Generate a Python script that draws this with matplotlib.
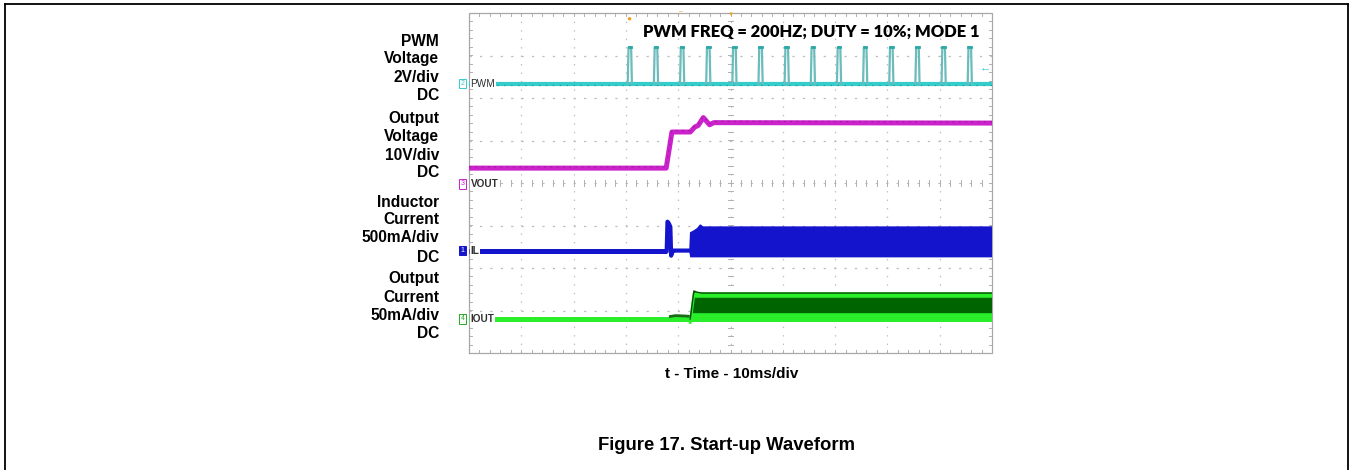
import numpy as np
import matplotlib
matplotlib.use("Agg")
import matplotlib.pyplot as plt
from matplotlib.lines import Line2D

plt.rcParams['lines.scale_dashes'] = False
plt.rcParams['font.family'] = ['Liberation Sans', 'DejaVu Sans']

# ---------------- data (time in ms, 10 ms/div, 0..100 ms) ----------------
channel_labels = ["PWM", "VOUT", "IL", "IOUT"]
left_labels = [["PWM", "Voltage", "2V/div", "DC"],
               ["Output", "Voltage", "10V/div", "DC"],
               ["Inductor", "Current", "500mA/div", "DC"],
               ["Output", "Current", "50mA/div", "DC"]]
title_text = "PWM FREQ = 200HZ; DUTY = 10%; MODE 1"
xlabel_text = "t - Time - 10ms/div"
caption_text = "Figure 17. Start-up Waveform"

# PWM (V)
pwm_pulse_t = [30.5, 35.5, 40.5, 45.5, 50.5, 55.5, 60.5, 65.5, 70.5, 75.5,
               80.5, 85.5, 90.5, 95.5]
pwm_width_ms = 0.5
pwm_low_v = 0.0
pwm_high_v = 1.7

# VOUT (V)
vout_t = [0, 37.7, 38.8, 42.3, 43.2, 43.8, 44.8, 46.0, 46.8, 100]
vout_v = [3.7, 3.7, 12.2, 12.2, 13.4, 13.7, 15.6, 13.9, 14.4, 14.3]

# IL (mA)
il_base_t = [0, 37.8]
il_base_ma = [0, 0]
il_spike_t = [37.8, 37.95, 38.2, 38.5, 38.65, 38.85, 39.0, 42.1]
il_spike_ma = [0, 340, 320, 280, -60, -20, 0, 0]
il_upper_t = [42.1, 42.25, 43.0, 43.6, 44.2, 44.8, 100]
il_upper_ma = [0, 215, 240, 265, 310, 285, 285]
il_lower_t = [42.1, 42.3, 100]
il_lower_ma = [-10, -80, -80]

# IOUT (mA)
iout_base_t = [0, 100]
iout_base_ma = [0, 0]
iout_bump_t = [38.5, 39.5, 41.5, 42.3]
iout_bump_ma = [3.0, 4.0, 3.5, 3.0]
iout_top_t = [42.3, 43.0, 43.6, 44.6, 100]
iout_top_ma = [0, 33, 31.5, 30.5, 30.5]
iout_band_t = [43.2, 100]
iout_band_ma = [28.0, 28.0]
iout_low_band_t = [42.6, 100]
iout_low_band_ma = [2.5, 2.5]

# channel scales / offsets (divisions)
pwm_scale, pwm_off = 2.0, 2.34
vout_scale, vout_off = 10.0, -0.02
il_scale, il_off = 500.0, -1.59
iout_scale, iout_off = 50.0, -3.2

C_PWM = "#35cccc"
C_VOUT = "#cc22cc"
C_IL = "#1414cc"
C_IOUT = "#2aee2a"
C_IOUT_D = "#006400"

W, H = 1350, 470
fig = plt.figure(figsize=(13.5, 4.7), dpi=100)

def fx(px):
    return px / W

def fy(py):
    return 1 - py / H

# outer frame
for (x0, y0, x1, y1) in [(5, 4, 1348, 4), (5, 4, 5, 470), (1348, 4, 1348, 470)]:
    fig.add_artist(Line2D([fx(x0), fx(x1)], [fy(y0), fy(y1)], color='black', lw=1.3))

L, T, R, B = 469, 13, 992, 353
ax = fig.add_axes([fx(L), fy(B), (R - L) / W, (B - T) / H])
ax.set_xlim(0, 100)
ax.set_ylim(-4, 4)
ax.axis('off')

gcol = '#bcbcbc'
tcol = '#b0b0b0'
# dotted grid
for x in range(10, 100, 10):
    if x == 50:
        continue
    ax.plot([x, x], [-4, 4], color=gcol, lw=0.9, ls=(0, (1.0, 5.1)), zorder=1)
for y in range(-3, 4):
    if y == 0:
        continue
    ax.plot([0, 100], [y, y], color=gcol, lw=0.9, ls=(0, (1.6, 5.9)), zorder=1)
# center lines with ticks
ax.plot([50, 50], [-4, 4], color=gcol, lw=0.8, ls=(0, (1.0, 5.1)), zorder=1)
ax.plot([0, 100], [0, 0], color=gcol, lw=0.8, ls=(0, (1.6, 5.9)), zorder=1)
for yy in np.arange(-4, 4.01, 0.2):
    ax.plot([49.5, 50.5], [yy, yy], color=tcol, lw=0.7, zorder=1)
    ax.plot([0, 0.6], [yy, yy], color=tcol, lw=0.7, zorder=1)
    ax.plot([99.4, 100], [yy, yy], color=tcol, lw=0.7, zorder=1)
for xx in np.arange(0, 100.01, 2):
    ax.plot([xx, xx], [-0.06, 0.06], color=tcol, lw=0.7, zorder=1)
    ax.plot([xx, xx], [3.92, 4.0], color=tcol, lw=0.7, zorder=1)
    ax.plot([xx, xx], [-4.0, -3.92], color=tcol, lw=0.7, zorder=1)
# border
ax.plot([0, 100, 100, 0, 0], [-4, -4, 4, 4, -4], color='#a8a8a8', lw=0.9, zorder=1, clip_on=False)

# ---- PWM ----
pb = pwm_low_v / pwm_scale + pwm_off
ph = pwm_high_v / pwm_scale + pwm_off
ax.plot([0, 100], [pb, pb], color=C_PWM, lw=3.0, zorder=3, solid_capstyle='butt')
ax.plot([0, 100], [pb - 0.03, pb - 0.03], color='#1f7f7f', lw=0.8, ls=(0, (1, 4)), zorder=3, alpha=0.7)
for t0 in pwm_pulse_t:
    ax.plot([t0 - 0.15, t0, t0 + pwm_width_ms, t0 + pwm_width_ms + 0.15],
            [pb, ph, ph, pb], color='#6cbcbc', lw=1.6, zorder=4)
    ax.plot([t0, t0 + pwm_width_ms], [ph, ph], color='#2aa8a8', lw=2.0, zorder=4)

# ---- VOUT ----
vd = np.array(vout_v) / vout_scale + vout_off
ax.plot(vout_t, vd, color=C_VOUT, lw=3.6, zorder=3, solid_joinstyle='round')
ax.plot(vout_t, vd + 0.03, color='#8a1a8a', lw=0.8, ls=(0, (1.5, 3)), zorder=3, alpha=0.7)

# ---- IL ----
ax.plot(il_base_t, np.array(il_base_ma) / il_scale + il_off, color=C_IL, lw=3.6, zorder=3,
        solid_capstyle='butt')
ax.plot(il_spike_t, np.array(il_spike_ma) / il_scale + il_off, color=C_IL, lw=3.0, zorder=3)
ux = np.array(il_upper_t); uy = np.array(il_upper_ma) / il_scale + il_off
lx = np.array(il_lower_t); ly = np.array(il_lower_ma) / il_scale + il_off
ax.fill(np.r_[ux, lx[::-1]], np.r_[uy, ly[::-1]], color=C_IL, lw=0, zorder=3)

# ---- IOUT ----
ax.plot(iout_base_t, np.array(iout_base_ma) / iout_scale + iout_off, color=C_IOUT, lw=3.6,
        zorder=3, solid_capstyle='butt')
ax.plot(iout_bump_t, np.array(iout_bump_ma) / iout_scale + iout_off, color='#1a6a1a', lw=2.0, zorder=4)
tx = np.array(iout_top_t); ty = np.array(iout_top_ma) / iout_scale + iout_off
ax.fill(np.r_[tx, tx[-1], tx[0]], np.r_[ty, iout_off, iout_off], color=C_IOUT_D, lw=0, zorder=3)
ax.plot(iout_band_t, np.array(iout_band_ma) / iout_scale + iout_off, color=C_IOUT, lw=4.0, zorder=4,
        solid_capstyle='butt')
ax.plot(tx, ty, color='#0a4a0a', lw=1.0, zorder=5)
ax.plot(tx[:3], ty[:3] - 0.08, color=C_IOUT, lw=2.0, zorder=4)
ax.plot(iout_low_band_t, np.array(iout_low_band_ma) / iout_scale + iout_off, color=C_IOUT, lw=5.5,
        zorder=4, solid_capstyle='butt')

# channel markers
markers = [("2", pb, C_PWM, False), ("3", vout_off, C_VOUT, False),
           ("1", il_off, C_IL, True), ("4", iout_off, '#22aa22', False)]
for (num, yv, col, filled), lab in zip(markers, channel_labels):
    ax.text(-1.2, yv, num, fontsize=5, color='white' if filled else col, ha='center', va='center',
            clip_on=False, zorder=6,
            bbox=dict(boxstyle='square,pad=0.2', fc=col if filled else 'white', ec=col, lw=0.7))
    ax.text(0.3, yv, lab, fontsize=7.2, color='#303030', ha='left', va='center', zorder=6,
            fontweight='bold' if lab != 'PWM' else 'normal',
            bbox=dict(boxstyle='square,pad=0.05', fc='white', ec='none'))

# trigger level arrow
ax.text(99.8, (183 - 67) / 42.5, "\u2190", fontsize=8, color=C_PWM, ha='right', va='center', zorder=6)
# trigger markers
fig.text(fx(629), fy(19), "\u25CF", fontsize=6, color='#f0a020', ha='center', va='center')
fig.text(fx(731), fy(14), "\u25BC", fontsize=4.5, color='#f0a020', ha='center', va='center')
fig.text(fx(681), fy(12), "\u2013", fontsize=5, color='#f0a020', ha='center', va='center')

# in-screen title
fig.text(fx(643), fy(32), title_text, fontsize=11.9, fontweight='heavy', family=['Lato', 'DejaVu Sans'],
         color='black', ha='left', va='center')

# left labels
ys = [[41.7, 59, 77, 96], [119, 137, 155, 173], [202, 220, 238, 257], [279, 297, 316, 333]]
for grp, yg in zip(left_labels, ys):
    for s, yy in zip(grp, yg):
        fig.text(fx(439), fy(yy), s, fontsize=11.2, fontweight='bold', ha='right', va='center')

fig.text(fx(732), fy(374), xlabel_text, fontsize=11.0, fontweight='bold', ha='center', va='center')
fig.text(fx(726), fy(445), caption_text, fontsize=13.3, fontweight='bold', ha='center', va='center')

fig.savefig("out.png", dpi=100)
